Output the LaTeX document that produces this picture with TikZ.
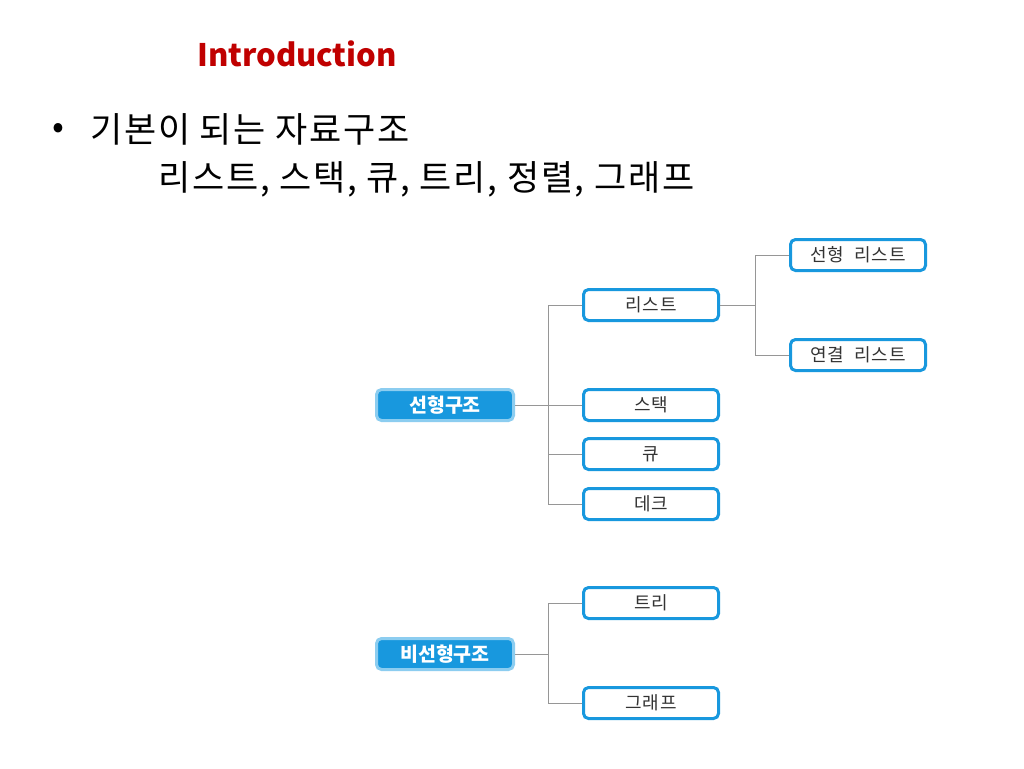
\documentclass[tikz,border=0pt]{standalone}
\usepackage{fontspec}
\setmainfont{Noto Sans CJK KR}
\newfontfamily\krwide[LetterSpace=5]{Noto Sans CJK KR}
\newcommand{\wsp}{\hspace{10pt}}
\definecolor{boxblue}{RGB}{24,152,222}
\definecolor{lightblue}{RGB}{140,205,240}
\definecolor{titlered}{RGB}{192,0,0}
\definecolor{linegray}{RGB}{150,150,150}
\tikzset{
  leaf/.style={draw=boxblue, line width=3pt, fill=white, rounded corners=5pt,
    minimum width=135pt, minimum height=31pt, inner sep=0pt, font=\krwide\fontsize{18}{20}\selectfont, text=black!80},
  rootbox/.style={draw=lightblue, line width=3pt, fill=boxblue, rounded corners=5pt,
    minimum width=137pt, minimum height=31pt, inner sep=0pt, font=\bfseries\fontsize{19.5}{21}\selectfont, text=white},
  bodytext/.style={font=\krwide\fontsize{35}{38}\selectfont, anchor=west, inner sep=0pt},
  conn/.style={draw=linegray, line width=1pt}
}
\begin{document}
\begin{tikzpicture}[x=1pt,y=-1pt]
\useasboundingbox (0,0) rectangle (1024,768);
\fill[white] (0,0) rectangle (1024,768);
\node[font=\bfseries\fontsize{31}{34}\selectfont, text=titlered] (title) at (297,54) {Introduction};
\node[bodytext] (bullet) at (52,131) {•};
\node[bodytext] (line1) at (90,129) {기본이 되는 자료구조};
\node[bodytext] (line2) at (158,179) {리스트, 스택, 큐, 트리, 정렬, 그래프};

\node[rootbox] (lin) at (445,405) {선형구조};
\node[leaf] (list) at (651,305) {리스트};
\node[leaf] (stack) at (651,405) {스택};
\node[leaf] (queue) at (651,454) {큐};
\node[leaf] (deque) at (651,504) {데크};
\node[leaf] (slist) at (858,255) {선형\wsp 리스트};
\node[leaf] (llist) at (858,355) {연결\wsp 리스트};
\node[rootbox] (nonlin) at (445,654) {비선형구조};
\node[leaf] (tree) at (651,603) {트리};
\node[leaf] (graph) at (651,703) {그래프};

\coordinate (j1) at (548,405);
\coordinate (j2) at (755,305);
\coordinate (j3) at (548,654);
\draw[conn] (lin.east) -- (j1);
\draw[conn] (j1) |- (list.west);
\draw[conn] (j1) |- (deque.west);
\draw[conn] (j1) -- (stack.west);
\draw[conn] (j1 |- queue.west) -- (queue.west);
\draw[conn] (list.east) -- (j2);
\draw[conn] (j2) |- (slist.west);
\draw[conn] (j2) |- (llist.west);
\draw[conn] (nonlin.east) -- (j3);
\draw[conn] (j3) |- (tree.west);
\draw[conn] (j3) |- (graph.west);
\end{tikzpicture}
\end{document}
